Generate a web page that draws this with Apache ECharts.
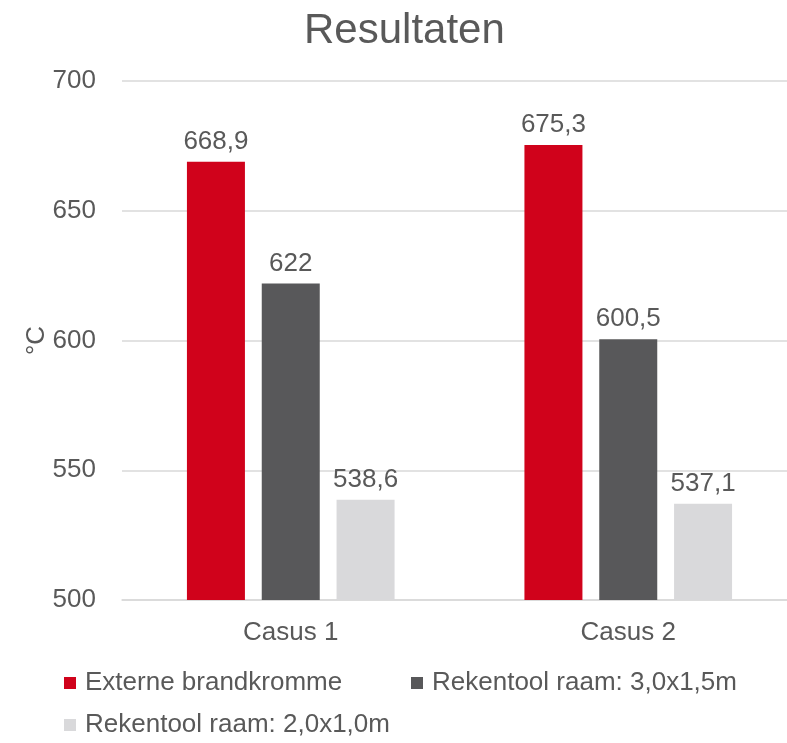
<!DOCTYPE html>
<html>
<head>
<meta charset="utf-8">
<script src="https://cdn.jsdelivr.net/npm/echarts@6/dist/echarts.min.js"></script>
<style>html,body{margin:0;padding:0;background:#fff;}#c{width:787px;height:743px;}</style>
</head>
<body>
<div id="c"></div>
<script>
var categories = ['Casus 1', 'Casus 2'];
var seriesNames = ['Externe brandkromme', 'Rekentool raam: 3,0x1,5m', 'Rekentool raam: 2,0x1,0m'];
var externe = [668.9, 675.3];
var rekentool30 = [622, 600.5];
var rekentool20 = [538.6, 537.1];
var yTicks = [500, 550, 600, 650, 700];

var FONT = '"Liberation Sans", Arial, sans-serif';
var TXT = '#595959';
var colors = ['#D0021B', '#58585A', '#D9D9DB'];

function fmt(v) { return String(v).replace('.', ','); }

var chart = echarts.init(document.getElementById('c'), null, {renderer: 'canvas'});
var labelCfg = {
  show: true, position: 'top', distance: 7,
  color: TXT, fontSize: 26, fontFamily: FONT,
  formatter: function (p) { return fmt(p.value); }
};
function legend(name, left, top) {
  return {
    data: [name], left: left, top: top, padding: 0,
    icon: 'rect', itemWidth: 12, itemHeight: 12,
    textStyle: {color: TXT, fontSize: 26, fontFamily: FONT, padding: [0, 0, 0, 4]}
  };
}
chart.setOption({
  animation: false,
  color: colors,
  title: {
    text: 'Resultaten', left: 304, top: 10, padding: 0,
    textStyle: {color: TXT, fontSize: 42, fontWeight: 'normal', fontFamily: FONT}
  },
  legend: [
    legend(seriesNames[0], 64, 670),
    legend(seriesNames[1], 411, 670),
    legend(seriesNames[2], 64, 712)
  ],
  grid: {left: 122, width: 675, top: 81, bottom: 143, containLabel: false, outerBoundsMode: 'none'},
  xAxis: {
    type: 'category', data: categories,
    axisLine: {show: true, lineStyle: {color: '#D9D9D9', width: 1.5}},
    axisTick: {show: false},
    axisLabel: {color: TXT, fontSize: 26, fontFamily: FONT, margin: 20}
  },
  yAxis: {
    type: 'value', min: yTicks[0], max: yTicks[yTicks.length - 1], interval: 50,
    name: '°C', nameLocation: 'middle', nameRotate: 90, nameGap: 72, nameMoveOverlap: false,
    nameTextStyle: {color: TXT, fontSize: 26, fontFamily: FONT},
    axisLine: {show: false}, axisTick: {show: false},
    axisLabel: {color: TXT, fontSize: 26, fontFamily: FONT, margin: 26},
    splitLine: {lineStyle: {color: '#D9D9D9', width: 1.5}}
  },
  series: [
    {name: seriesNames[0], type: 'bar', data: externe, barWidth: 58, barGap: '29%', label: labelCfg},
    {name: seriesNames[1], type: 'bar', data: rekentool30, barWidth: 58, barGap: '29%', label: labelCfg},
    {name: seriesNames[2], type: 'bar', data: rekentool20, barWidth: 58, barGap: '29%', label: labelCfg}
  ]
});
</script>
</body>
</html>
